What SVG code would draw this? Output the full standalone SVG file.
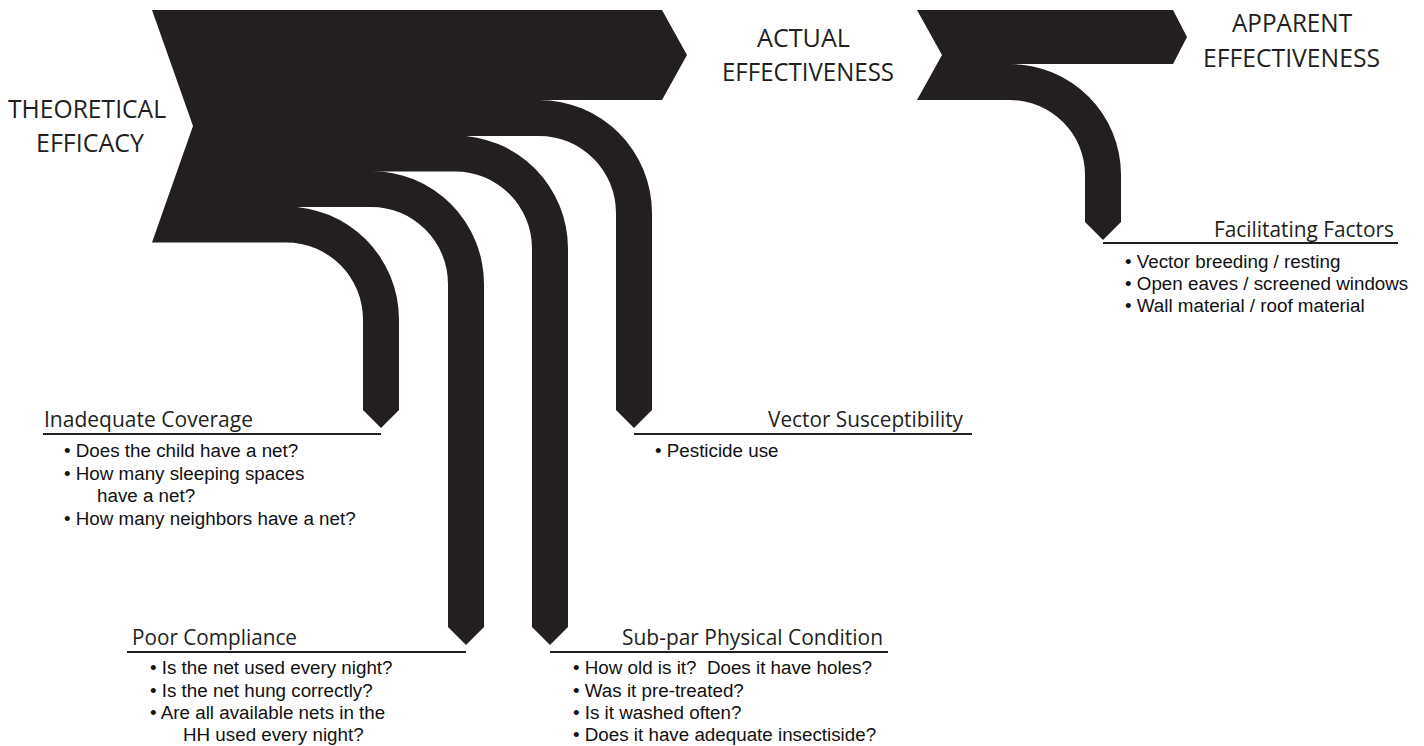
<svg xmlns="http://www.w3.org/2000/svg" width="1424" height="746" viewBox="0 0 1424 746">
<style>
  .shape { fill: #231f20; }
  .title { font-family: "Open Sans", "Noto Sans", sans-serif; font-size: 25px; fill: #231f20; }
  .head { font-family: "Open Sans", "Noto Sans", sans-serif; font-size: 21px; fill: #231f20; }
  .bul { font-family: "Liberation Sans", Arial, sans-serif; font-size: 18.8px; fill: #111; }
  .rule { stroke: #231f20; stroke-width: 2; fill: none; }
</style>
<rect width="1424" height="746" fill="#fff"/>

<g id="theoretical-efficacy">
  <polygon class="shape" points="152,10 662,10 687,55 662,100 539,100 539,136 455,136 455,171.5 371,171.5 371,207 286,207 286,242.5 152,242.5 193,126"/>
  <text class="title" x="8" y="118" textLength="158" lengthAdjust="spacingAndGlyphs">THEORETICAL</text>
  <text class="title" x="36" y="152" textLength="108" lengthAdjust="spacingAndGlyphs">EFFICACY</text>
</g>

<g id="actual-effectiveness">
  <text class="title" x="757" y="47" textLength="93" lengthAdjust="spacingAndGlyphs">ACTUAL</text>
  <text class="title" x="722" y="81" textLength="172" lengthAdjust="spacingAndGlyphs">EFFECTIVENESS</text>
</g>

<g id="apparent-effectiveness">
  <polygon class="shape" points="917,10 1173,10 1187,37 1173,64 1010,64 1010,100 917,100 942,55"/>
  <text class="title" x="1232" y="32" textLength="120" lengthAdjust="spacingAndGlyphs">APPARENT</text>
  <text class="title" x="1203" y="67" textLength="177" lengthAdjust="spacingAndGlyphs">EFFECTIVENESS</text>
</g>

<g id="connectors">
  <path class="shape" d="M539,100 A113,113 0 0 1 652,213 L652,410 L634,428 L616,410 L616,213 A77,77 0 0 0 539,136 Z"/>
  <path class="shape" d="M455,135.5 A113,113 0 0 1 568,248.5 L568,627 L550,645 L532,627 L532,248.5 A77,77 0 0 0 455,171.5 Z"/>
  <path class="shape" d="M371,171 A113,113 0 0 1 484,284 L484,627 L466,645 L448,627 L448,284 A77,77 0 0 0 371,207 Z"/>
  <path class="shape" d="M286,206.5 A113,113 0 0 1 399,319.5 L399,410 L381,428 L363,410 L363,319.5 A77,77 0 0 0 286,242.5 Z"/>
  <path class="shape" d="M1010,64 A111,111 0 0 1 1121,175 L1121,222 L1103,240 L1085,222 L1085,175 A75,75 0 0 0 1010,100 Z"/>
</g>

<g id="inadequate-coverage">
  <text class="head" x="44" y="427" textLength="209" lengthAdjust="spacingAndGlyphs">Inadequate Coverage</text>
  <line class="rule" x1="43" y1="434" x2="381" y2="434"/>
  <text class="bul" x="64" y="457">• Does the child have a net?</text>
  <text class="bul" x="64" y="480">• How many sleeping spaces</text>
  <text class="bul" x="97" y="502">have a net?</text>
  <text class="bul" x="64" y="525">• How many neighbors have a net?</text>
</g>

<g id="vector-susceptibility">
  <text class="head" x="768" y="427" textLength="195" lengthAdjust="spacingAndGlyphs">Vector Susceptibility</text>
  <line class="rule" x1="634" y1="434" x2="972" y2="434"/>
  <text class="bul" x="655" y="457">• Pesticide use</text>
</g>

<g id="poor-compliance">
  <text class="head" x="132" y="645" textLength="165" lengthAdjust="spacingAndGlyphs">Poor Compliance</text>
  <line class="rule" x1="127" y1="652" x2="466" y2="652"/>
  <text class="bul" x="150" y="674">• Is the net used every night?</text>
  <text class="bul" x="150" y="697">• Is the net hung correctly?</text>
  <text class="bul" x="150" y="719">• Are all available nets in the</text>
  <text class="bul" x="183" y="741">HH used every night?</text>
</g>

<g id="subpar-physical-condition">
  <text class="head" x="622" y="645" textLength="261" lengthAdjust="spacingAndGlyphs">Sub-par Physical Condition</text>
  <line class="rule" x1="550" y1="652" x2="888" y2="652"/>
  <text class="bul" x="573" y="674">• How old is it?&#160; Does it have holes?</text>
  <text class="bul" x="573" y="697">• Was it pre-treated?</text>
  <text class="bul" x="573" y="719">• Is it washed often?</text>
  <text class="bul" x="573" y="741">• Does it have adequate insectiside?</text>
</g>

<g id="facilitating-factors">
  <text class="head" x="1214" y="237" textLength="180" lengthAdjust="spacingAndGlyphs">Facilitating Factors</text>
  <line class="rule" x1="1103" y1="243" x2="1398" y2="243"/>
  <text class="bul" x="1125" y="268">• Vector breeding / resting</text>
  <text class="bul" x="1125" y="290">• Open eaves / screened windows</text>
  <text class="bul" x="1125" y="312">• Wall material / roof material</text>
</g>
</svg>
